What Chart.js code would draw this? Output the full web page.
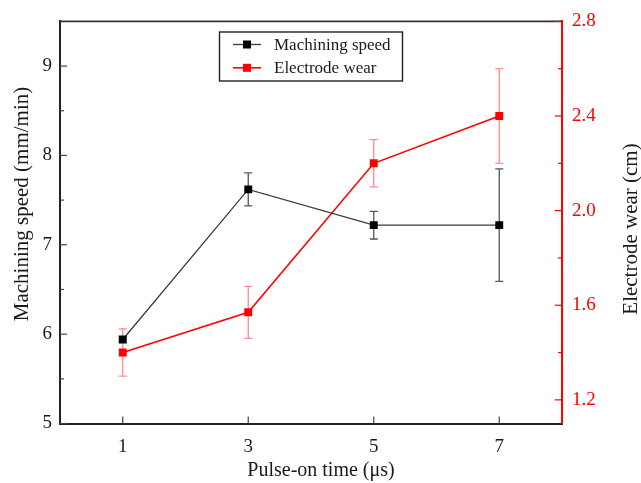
<!DOCTYPE html>
<html>
<head>
<meta charset="utf-8">
<script src="https://cdn.jsdelivr.net/npm/chart.js@4.4.1/dist/chart.umd.min.js"></script>
<style>
  html, body { margin: 0; padding: 0; background: #fff; overflow: hidden; }
  #wrap { position: relative; width: 641px; height: 483px; }
</style>
</head>
<body>
<div id="wrap"><canvas id="chart"></canvas></div>
<script>
  'use strict';

  // Data.
  const pulseOn = [ 1, 3, 5, 7 ];
  const speed = [ 5.94, 7.62, 7.22, 7.22 ];
  const speedErr = [ 0.03, 0.185, 0.155, 0.63 ];
  const wear = [ 1.40, 1.57, 2.20, 2.40 ];
  const wearErr = [ 0.10, 0.11, 0.10, 0.20 ];

  // Tick labels.
  const xTicks = [ 1, 3, 5, 7 ];
  const speedTicks = [ 5, 6, 7, 8, 9 ];
  const wearTicks = [ 1.2, 1.6, 2.0, 2.4, 2.8 ];

  const FONT = '"Liberation Serif", "Times New Roman", serif';
  const RED = '#ff0000';
  const INK = '#1a1a1a';

  function points( ys ) {
    return pulseOn.map( ( x, i ) => ( { x: x, y: ys[ i ] } ) );
  }

  function midpoints( arr ) {
    const out = [];
    for ( let i = 0; i < arr.length - 1; i++ ) {
      out.push( ( arr[ i ] + arr[ i + 1 ] ) / 2 );
    }
    return out;
  }

  /**
   * Vertical error bars with caps, drawn under the markers.
   */
  const errorBars = {
    id: 'errorBars',
    beforeDatasetsDraw( chart ) {
      const ctx = chart.ctx;
      chart.data.datasets.forEach( ( ds ) => {
        if ( ! ds.errors ) {
          return;
        }
        const xs = chart.scales.x;
        const ys = chart.scales[ ds.yAxisID ];
        ctx.save();
        ctx.strokeStyle = ds.errorColor;
        ctx.lineWidth = 1.3;
        ds.data.forEach( ( p, j ) => {
          const px = xs.getPixelForValue( p.x );
          const top = ys.getPixelForValue( p.y + ds.errors[ j ] );
          const bot = ys.getPixelForValue( p.y - ds.errors[ j ] );
          ctx.beginPath();
          ctx.moveTo( px, top );
          ctx.lineTo( px, bot );
          ctx.moveTo( px - 4, top );
          ctx.lineTo( px + 4, top );
          ctx.moveTo( px - 4, bot );
          ctx.lineTo( px + 4, bot );
          ctx.stroke();
        } );
        ctx.restore();
      } );
    }
  };

  /**
   * Inward tick marks, top frame line, axis titles and boxed legend.
   */
  const decorations = {
    id: 'decorations',
    afterDraw( chart ) {
      const ctx = chart.ctx;
      const a = chart.chartArea;
      const sx = chart.scales.x;
      const sy = chart.scales.y;
      const sy2 = chart.scales.y2;

      function seg( x1, y1, x2, y2 ) {
        ctx.beginPath();
        ctx.moveTo( x1, y1 );
        ctx.lineTo( x2, y2 );
        ctx.stroke();
      }

      ctx.save();

      // Top frame.
      ctx.strokeStyle = '#333';
      ctx.lineWidth = 1.6;
      seg( a.left, a.top, a.right, a.top );

      // Left ticks.
      ctx.strokeStyle = '#444';
      ctx.lineWidth = 1.2;
      speedTicks.forEach( ( v ) => {
        const y = sy.getPixelForValue( v );
        seg( a.left, y, a.left + 7, y );
      } );
      midpoints( speedTicks ).forEach( ( v ) => {
        const y = sy.getPixelForValue( v );
        seg( a.left, y, a.left + 4, y );
      } );

      // Bottom ticks.
      xTicks.forEach( ( v ) => {
        const x = sx.getPixelForValue( v );
        seg( x, a.bottom, x, a.bottom - 7 );
      } );

      // Right ticks.
      ctx.strokeStyle = RED;
      wearTicks.forEach( ( v ) => {
        const y = sy2.getPixelForValue( v );
        seg( a.right, y, a.right - 7, y );
      } );
      midpoints( wearTicks ).forEach( ( v ) => {
        const y = sy2.getPixelForValue( v );
        seg( a.right, y, a.right - 4, y );
      } );

      // Axis titles.
      ctx.fillStyle = INK;
      ctx.textAlign = 'center';
      ctx.textBaseline = 'middle';
      ctx.font = '20px ' + FONT;
      ctx.fillText( 'Pulse-on time (\u03bcs)', 321, 471 );

      ctx.font = '21px ' + FONT;
      ctx.save();
      ctx.translate( 22, 204 );
      ctx.rotate( -Math.PI / 2 );
      ctx.fillText( 'Machining speed (mm/min)', 0, 0 );
      ctx.restore();

      ctx.save();
      ctx.translate( 631, 229 );
      ctx.rotate( -Math.PI / 2 );
      ctx.fillText( 'Electrode wear (cm)', 0, 0 );
      ctx.restore();

      // Legend box.
      ctx.strokeStyle = '#222';
      ctx.lineWidth = 1.4;
      ctx.strokeRect( 219.5, 32, 183, 49 );
      ctx.textAlign = 'left';
      ctx.font = '17px ' + FONT;
      chart.data.datasets.forEach( ( ds, i ) => {
        const y = 44.5 + i * 23.3;
        ctx.strokeStyle = ds.borderColor;
        ctx.lineWidth = ds.borderWidth;
        seg( 233, y, 261, y );
        ctx.fillStyle = ds.pointBackgroundColor;
        ctx.fillRect( 243, y - 4, 8, 8 );
        ctx.fillStyle = INK;
        ctx.fillText( ds.label, 274, y + 1 );
      } );

      ctx.restore();
    }
  };

  function initChart() {
    const canvas = document.getElementById( 'chart' );
    const ctx = canvas.getContext( '2d' );

    new Chart( ctx, {
      type: 'line',
      data: {
        datasets: [
          {
            label: 'Machining speed',
            data: points( speed ),
            errors: speedErr,
            errorColor: '#555',
            yAxisID: 'y',
            borderColor: '#3c3c3c',
            borderWidth: 1.3,
            pointStyle: 'rect',
            pointRadius: 5.6,
            pointBackgroundColor: '#000',
            pointBorderWidth: 0,
            tension: 0,
          },
          {
            label: 'Electrode wear',
            data: points( wear ),
            errors: wearErr,
            errorColor: 'rgba(255,60,60,0.6)',
            yAxisID: 'y2',
            borderColor: RED,
            borderWidth: 1.6,
            pointStyle: 'rect',
            pointRadius: 5.6,
            pointBackgroundColor: RED,
            pointBorderWidth: 0,
            tension: 0,
          },
        ],
      },
      options: {
        responsive: true,
        maintainAspectRatio: false,
        animation: false,
        layout: {
          padding: { top: 18, left: 0, right: 0, bottom: 0 },
        },
        plugins: {
          legend: { display: false },
          tooltip: { enabled: false },
        },
        scales: {
          x: {
            type: 'linear',
            position: 'bottom',
            min: 0,
            max: 8,
            afterBuildTicks: ( scale ) => {
              scale.ticks = xTicks.map( ( v ) => ( { value: v } ) );
            },
            afterFit: ( scale ) => {
              scale.height = 59.5;
            },
            grid: { display: false, drawTicks: false },
            border: { color: '#222', width: 2 },
            ticks: {
              color: INK,
              padding: 12,
              font: { family: FONT, size: 19 },
              maxRotation: 0,
            },
          },
          y: {
            position: 'left',
            min: 5,
            max: 9.5,
            afterBuildTicks: ( scale ) => {
              scale.ticks = speedTicks.map( ( v ) => ( { value: v } ) );
            },
            afterFit: ( scale ) => {
              scale.width = 60;
            },
            grid: { display: false, drawTicks: false },
            border: { color: '#222', width: 2 },
            ticks: {
              color: INK,
              padding: 8,
              font: { family: FONT, size: 19 },
            },
          },
          y2: {
            position: 'right',
            min: 1.1,
            max: 2.8,
            afterBuildTicks: ( scale ) => {
              scale.ticks = wearTicks.map( ( v ) => ( { value: v } ) );
            },
            afterFit: ( scale ) => {
              scale.width = 79;
            },
            grid: { display: false, drawTicks: false },
            border: { color: RED, width: 2 },
            ticks: {
              color: RED,
              padding: 10,
              font: { family: FONT, size: 19 },
              callback: ( v ) => Number( v ).toFixed( 1 ),
            },
          },
        },
      },
      plugins: [ errorBars, decorations ],
    } );
  }

  initChart();
</script>
</body>
</html>
